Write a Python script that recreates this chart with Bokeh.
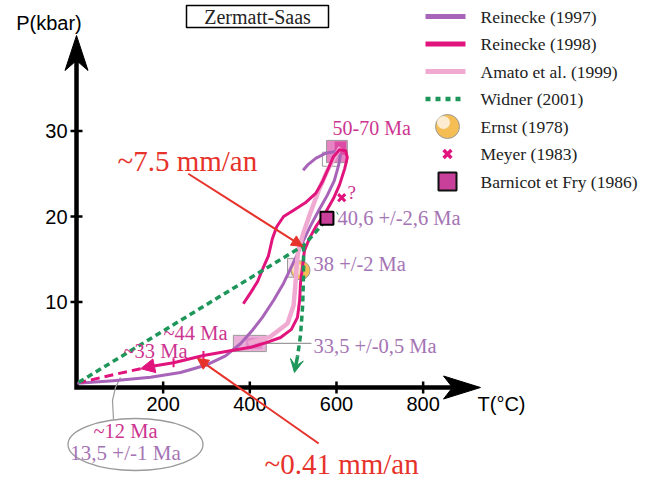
from bokeh.plotting import figure
from bokeh.models import Range1d, Arrow, NormalHead, VeeHead
from bokeh.core.properties import value
from bokeh.embed import file_html
from bokeh.resources import INLINE

# ---------------- data (T in °C, P in kbar) ----------------
x_ticks = [200, 400, 600, 800]
y_ticks = [10, 20, 30]
x_tick_labels = ["200", "400", "600", "800"]
y_tick_labels = ["10", "20", "30"]

reinecke1997_T = [2, 85, 171, 240, 298, 344, 379, 406, 429, 455, 478, 494, 508, 522,
                  540, 559, 579, 595, 605, 609, 598, 575, 552, 533, 523]
reinecke1997_P = [0.5, 0.8, 1.2, 1.75, 2.6, 3.7, 5.15, 6.7, 8.2, 10.2, 12.2, 13.9, 15.4, 17.0,
                  18.9, 20.7, 22.5, 24.2, 26.0, 27.1, 27.6, 27.4, 26.8, 26.0, 25.4]

reinecke1998_T = [385, 402, 418, 432, 443, 452, 462, 478, 503, 528, 552, 568, 582, 593, 607,
                  621, 625, 619, 607, 593, 575, 554, 538, 526, 522, 517, 515, 510, 496, 471,
                  438, 402, 355, 293, 224, 171]
reinecke1998_P = [9.8, 11.1, 12.4, 14.15, 15.4, 17.4, 18.8, 20.0, 20.8, 21.6, 22.7, 24.1, 25.7,
                  27.0, 27.8, 27.7, 26.9, 25.6, 23.7, 22.1, 20.5, 18.95, 17.5, 16.0, 14.3, 12.2,
                  10.2, 8.2, 6.8, 5.85, 5.25, 4.7, 4.3, 3.75, 2.9, 2.45]
reinecke1998_tip_T = 148
reinecke1998_tip_P = 2.2
reinecke1998_dash_T = [148, 85, 9]
reinecke1998_dash_P = [2.2, 1.5, 0.6]
age_tick_T = [224, 293]
age_tick_P = [2.9, 3.75]

amato_T = [397, 448, 487, 501, 505, 508, 512, 524, 540, 559, 579, 598, 609]
amato_P = [5.15, 5.96, 7.49, 9.59, 11.93, 14.27, 16.02, 18.13, 20.47, 23.04, 25.38, 27.13, 28.07]

widner_pro_T = [5, 524, 547, 568, 589, 603]
widner_pro_P = [0.6, 16.6, 17.9, 19.1, 20.0, 20.4]
widner_retro_T = [524, 524, 522, 517, 510]
widner_retro_P = [16.6, 13.1, 9.6, 6.1, 3.6]
widner_tip_T = 503
widner_tip_P = 1.75

ernst_T, ernst_P = [517], [13.7]
meyer_T, meyer_P = [612], [22.2]
barnicot_T, barnicot_P = [578], [19.8]

peak_box = dict(T=601, P=27.6, w=48, h=2.6)
ret_box = dict(T=400, P=5.15, w=76, h=1.9)
ernst_box = dict(T=495, P=14.0, w=16, h=2.2)

rate_fast = dict(T0=258, P0=25.0, T1=522, P1=16.5)
rate_slow = dict(T0=559, P0=-6.55, T1=279, P1=3.4)

legend_labels = ["Reinecke (1997)", "Reinecke (1998)", "Amato et al. (1999)",
                 "Widner (2001)", "Ernst (1978)", "Meyer (1983)", "Barnicot et Fry (1986)"]

# ---------------- colours ----------------
PURPLE = "#A864B8"
MAGENTA = "#E1147D"
PINK = "#F0AAD2"
GREEN = "#1E965A"
RED = "#E6322A"
AGE_MAG = "#CC3590"
AGE_PUR = "#A574B5"
GREY = "#9A9A9A"

# ---------------- layout helpers (reference image pixels) ----------------
W, H = 654, 481
SX, SY = 0.4333, 8.55          # px per °C, px per kbar
OX, OY = 76, 387               # origin in image pixels


def T_of(px):
    return (px - OX) / SX


def P_of(py):
    return (OY - py) / SY


p = figure(width=W, height=H, min_border=0, toolbar_location=None, output_backend="svg",
           x_axis_type=None, y_axis_type=None, title=None,
           x_range=Range1d(T_of(0), T_of(W)), y_range=Range1d(P_of(H), P_of(0)))
p.grid.visible = False
p.outline_line_color = None
p.background_fill_color = "white"
p.border_fill_color = "white"


def label(T, P, s, size, color, font="Liberation Serif", align="left"):
    p.text(x=[T], y=[P], text=[s], text_font=value(font), text_font_size=value(size),
           text_color=color, text_align=align, text_baseline="middle")


# ---------------- axes drawn with arrows ----------------
y_tip, y_notch, y_back = P_of(35), P_of(60), P_of(70)
x_tip, x_notch, x_back = T_of(480), T_of(452), T_of(443)
p.line([0, 0, x_notch], [y_notch, 0, 0], line_color="black", line_width=4.5, line_join="miter")
hw = 11.5 / SX
p.patch([0, hw, 0, -hw], [y_tip, y_back, y_notch, y_back], color="black")
hh = 11.5 / SY
p.patch([x_tip, x_back, x_notch, x_back], [0, hh, 0, -hh], color="black")
tkx, tky = 6 / SX, 6 / SY
p.segment(x0=x_ticks, y0=[-tky] * 4, x1=x_ticks, y1=[tky] * 4, line_color="black", line_width=2.5)
p.segment(x0=[-tkx] * 3, y0=y_ticks, x1=[tkx] * 3, y1=y_ticks, line_color="black", line_width=2.5)
p.text(x=x_ticks, y=[0] * 4, text=x_tick_labels, y_offset=16, text_align="center",
       text_baseline="middle", text_font=value("Liberation Sans"), text_font_size=value("20px"),
       text_color="black")
p.text(x=[0] * 3, y=y_ticks, text=y_tick_labels, x_offset=-9, text_align="right",
       text_baseline="middle", text_font=value("Liberation Sans"), text_font_size=value("20px"),
       text_color="black")
label(T_of(48.5), P_of(22), "P(kbar)", "20px", "black", "Liberation Sans", "center")
p.text(x=[T_of(477)], y=[0], text=["T(°C)"], y_offset=16, text_align="left", text_baseline="middle",
       text_font=value("Liberation Sans"), text_font_size=value("20px"), text_color="black")

# ---------------- title box ----------------
p.rect(x=[T_of(257)], y=[P_of(16)], width=142 / SX, height=22 / SY, fill_color="white",
       line_color="black", line_width=1.5)
label(T_of(257), P_of(16), "Zermatt-Saas", "20px", "#222222", align="center")

# ---------------- ellipse & connectors ----------------
p.ellipse(x=[T_of(135)], y=[P_of(444)], width=135 / SX, height=52 / SY, fill_color=None,
          line_color=GREY, line_width=1.3)
p.line([T_of(113), T_of(112), T_of(115), T_of(120)], [P_of(419), P_of(400), P_of(387), P_of(377)],
       line_color=GREY, line_width=1.2)
p.line([ret_box["T"] + ret_box["w"] / 2, T_of(311)], [ret_box["P"], ret_box["P"]],
       line_color=GREY, line_width=1.2)

# ---------------- boxes ----------------
p.rect(x=[peak_box["T"]], y=[peak_box["P"]], width=peak_box["w"], height=peak_box["h"],
       fill_color="#E684C4", line_color=GREY, line_width=1)
p.rect(x=[peak_box["T"] + 8], y=[peak_box["P"] + 0.4], width=peak_box["w"] * 0.55,
       height=peak_box["h"] * 0.6, fill_color="#D8409E", line_color=None, fill_alpha=0.8)
p.rect(x=[586], y=[26.7], width=37, height=1.64, fill_color=None, line_color=GREY, line_width=1)
p.rect(x=[ret_box["T"]], y=[ret_box["P"]], width=ret_box["w"], height=ret_box["h"],
       fill_color="#EBB0DA", line_color=GREY, line_width=1)
p.rect(x=[ret_box["T"] + 10], y=[ret_box["P"]], width=ret_box["w"] * 0.5, height=ret_box["h"] * 0.7,
       fill_color="#DE86C6", line_color=None, fill_alpha=0.8)
p.rect(x=[ernst_box["T"]], y=[ernst_box["P"]], width=ernst_box["w"], height=ernst_box["h"],
       fill_color="#F4E2F0", line_color=GREY, line_width=1)
p.scatter(ernst_T, ernst_P, marker="circle", size=19, fill_color="#F5BE55", line_color=GREY,
          line_width=1)
p.scatter([ernst_T[0] - 3 / SX], [ernst_P[0] + 1 / SY], marker="circle", size=11,
          fill_color="#FBE3C6", line_color=None, fill_alpha=0.9)

# ---------------- P-T paths ----------------
p.line(reinecke1997_T, reinecke1997_P, line_color=PURPLE, line_width=3, line_join="round")
p.line(amato_T, amato_P, line_color=PINK, line_width=4.5, line_join="round")
p.line(reinecke1998_T, reinecke1998_P, line_color=MAGENTA, line_width=3, line_join="round")
p.line(reinecke1998_dash_T, reinecke1998_dash_P, line_color=MAGENTA, line_width=3, line_dash="9 5")
p.add_layout(Arrow(end=NormalHead(size=14, fill_color=MAGENTA, line_color=MAGENTA),
                   x_start=reinecke1998_T[-1], y_start=reinecke1998_P[-1],
                   x_end=reinecke1998_tip_T, y_end=reinecke1998_tip_P,
                   line_color=MAGENTA, line_width=3))
tp = 4.5 / SY
p.segment(x0=age_tick_T, y0=[v - tp for v in age_tick_P], x1=age_tick_T,
          y1=[v + tp for v in age_tick_P], line_color=MAGENTA, line_width=2)

p.line(widner_pro_T, widner_pro_P, line_color=GREEN, line_width=3.5, line_dash="6 4")
p.line(widner_retro_T, widner_retro_P, line_color=GREEN, line_width=3.5, line_dash="6 4")
p.add_layout(Arrow(end=VeeHead(size=13, fill_color=GREEN, line_color=GREEN),
                   x_start=widner_retro_T[-1], y_start=widner_retro_P[-1],
                   x_end=widner_tip_T, y_end=widner_tip_P,
                   line_color=GREEN, line_width=3.5))

p.scatter(barnicot_T, barnicot_P, marker="square", size=13, fill_color="#C8409A",
          line_color="black", line_width=2)
p.scatter(meyer_T, meyer_P, marker="x", size=10, line_color=MAGENTA, line_width=3)

# ---------------- rate arrows ----------------
for r in (rate_fast, rate_slow):
    p.add_layout(Arrow(end=NormalHead(size=11, fill_color=RED, line_color=RED),
                       x_start=r["T0"], y_start=r["P0"], x_end=r["T1"], y_end=r["P1"],
                       line_color=RED, line_width=2))

# ---------------- annotations ----------------
label(T_of(117), P_of(160), "~7.5 mm/an", "29px", RED)
label(T_of(264), P_of(463), "~0.41 mm/an", "29px", RED)
label(T_of(332), P_of(127), "50-70 Ma", "20px", AGE_MAG)
label(T_of(347), P_of(192), "?", "19px", AGE_MAG)
label(T_of(337), P_of(217), "40,6 +/-2,6 Ma", "20.5px", AGE_PUR)
label(T_of(313), P_of(263), "38 +/-2 Ma", "20.5px", AGE_PUR)
label(T_of(313), P_of(345), "33,5 +/-0,5 Ma", "20.5px", AGE_PUR)
label(T_of(163), P_of(332), "~44 Ma", "20.5px", AGE_MAG)
label(T_of(123), P_of(350), "~33 Ma", "20.5px", AGE_MAG)
label(T_of(125), P_of(430), "~12 Ma", "20.5px", AGE_MAG, align="center")
label(T_of(125), P_of(452), "13,5 +/-1 Ma", "21px", AGE_PUR, align="center")

# ---------------- legend ----------------
rows = [P_of(16 + 27.5 * i) for i in range(7)]
lx0, lx1, lm, lt = T_of(425), T_of(465), T_of(447), T_of(480)
p.line([lx0, lx1], [rows[0]] * 2, line_color=PURPLE, line_width=5)
p.line([lx0, lx1], [rows[1]] * 2, line_color=MAGENTA, line_width=5)
p.line([lx0, lx1], [rows[2]] * 2, line_color=PINK, line_width=5)
p.line([lx0, lx1], [rows[3]] * 2, line_color=GREEN, line_width=4.5, line_dash="5 5")
p.scatter([lm], [rows[4]], marker="circle", size=24, fill_color="#F5BE55", line_color=GREY,
          line_width=1)
p.scatter([lm - 4 / SX], [rows[4] + 4 / SY], marker="circle", size=13, fill_color="#FFF1DE",
          line_color=None, fill_alpha=0.9)
p.scatter([lm], [rows[5]], marker="x", size=11, line_color=MAGENTA, line_width=3.5)
p.scatter([lm], [rows[6]], marker="square", size=18, fill_color="#C8409A", line_color="#111111",
          line_width=2)
p.text(x=[lt] * 7, y=rows, text=legend_labels, text_align="left", text_baseline="middle",
       text_font=value("Liberation Serif"), text_font_size=value("17.5px"), text_color="#222222")

open("out.html", "w").write(file_html(p, INLINE))
